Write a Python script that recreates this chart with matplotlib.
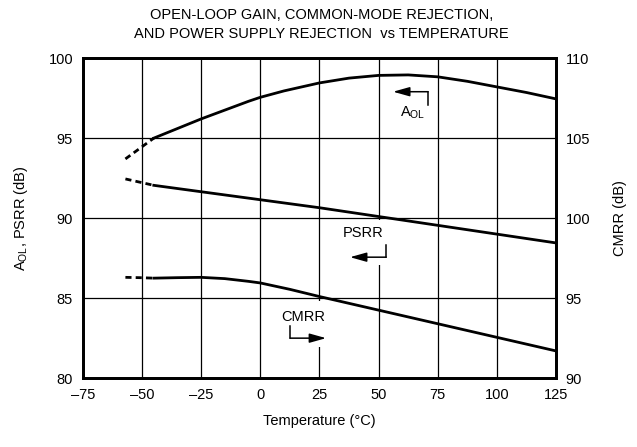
import matplotlib
matplotlib.use("Agg")
import matplotlib.pyplot as plt
from matplotlib.patches import Rectangle

plt.rcParams['font.family'] = ['Liberation Sans', 'DejaVu Sans']

# Data
aol_dash_t = [-57, -51, -45]
aol_dash_v = [93.7, 94.35, 95.0]
aol_t = [-45, -35, -25, -15, -5, 0, 10, 25, 37.5, 50, 62.5, 75, 87.5, 100, 112.5, 125]
aol_v = [95.0, 95.6, 96.2, 96.75, 97.3, 97.55, 97.95, 98.45, 98.75, 98.92, 98.95, 98.83, 98.55, 98.2, 97.85, 97.45]

psrr_dash_t = [-57, -51, -45]
psrr_dash_v = [92.45, 92.25, 92.05]
psrr_t = [-45, -25, 0, 25, 50, 75, 100, 125]
psrr_v = [92.05, 91.65, 91.15, 90.65, 90.1, 89.55, 89.0, 88.45]

cmrr_dash_t = [-57, -51, -45]
cmrr_dash_v = [96.3, 96.28, 96.25]
cmrr_t = [-45, -35, -25, -15, -5, 0, 12.5, 25, 50, 75, 100, 125]
cmrr_v = [96.25, 96.28, 96.3, 96.22, 96.05, 95.95, 95.55, 95.1, 94.25, 93.4, 92.55, 91.7]

xticks = [-75, -50, -25, 0, 25, 50, 75, 100, 125]
yticks_left = [80, 85, 90, 95, 100]
yticks_right = [90, 95, 100, 105, 110]

FS = 10.5

fig = plt.figure(figsize=(6.37, 4.47), dpi=100)
ax = fig.add_axes([0.130, 0.154, 0.743, 0.716])
ax2 = ax.twinx()

ax.set_xlim(-75, 125)
ax.set_ylim(80, 100)
ax2.set_ylim(90, 110)
ax.set_xticks(xticks)
ax.set_xticklabels([("\u2013%d" % -t if t < 0 else str(t)) for t in xticks])
ax.set_yticks(yticks_left)
ax2.set_yticks(yticks_right)

ax.grid(True, color='black', linewidth=0.9)
ax.set_axisbelow(True)
for a in (ax, ax2):
    a.tick_params(length=0, labelsize=FS, pad=7)
    for s in a.spines.values():
        s.set_linewidth(2.0)

# white masks behind annotations
for (x0, y0, w, h) in [(54.9, 96.0, 17.7, 2.5), (35.8, 87.06, 19.9, 2.8), (10.4, 81.94, 19.1, 2.9)]:
    ax.add_patch(Rectangle((x0, y0), w, h, facecolor='white', edgecolor='none', zorder=1.8))

ax.plot(aol_t, aol_v, color='black', lw=2.0, zorder=3)
ax.plot(aol_dash_t, aol_dash_v, color='black', lw=2.0, ls=(0, (2.2, 1.5)), zorder=3)
ax.plot(psrr_t, psrr_v, color='black', lw=2.0, zorder=3)
ax.plot(psrr_dash_t, psrr_dash_v, color='black', lw=2.0, ls=(0, (2.2, 1.5)), zorder=3)
ax2.plot(cmrr_t, cmrr_v, color='black', lw=2.0, zorder=3)
ax2.plot(cmrr_dash_t, cmrr_dash_v, color='black', lw=2.0, ls=(0, (2.2, 1.5)), zorder=3)

ax.set_zorder(ax2.get_zorder() + 1)
ax.patch.set_visible(False)

arrow_style = dict(arrowstyle='-|>,head_length=1.0,head_width=0.28', color='black', lw=1.1,
                   shrinkA=0, shrinkB=0)

# annotations
ax.text(64.2, 96.6, r"A$_{\mathregular{OL}}$", ha='center', va='center', fontsize=FS, zorder=4)
ax.plot([70.9, 70.9], [97.06, 97.9], color='black', lw=1.1, zorder=4)
ax.annotate("", xy=(56.1, 97.9), xytext=(70.9, 97.9), arrowprops=arrow_style, zorder=4)

ax.text(43.4, 89.06, "PSRR", ha='center', va='center', fontsize=FS, zorder=4)
ax.plot([53.2, 53.2], [87.56, 88.3], color='black', lw=1.1, zorder=4)
ax.annotate("", xy=(37.9, 87.56), xytext=(53.2, 87.56), arrowprops=arrow_style, zorder=4)

ax.text(18.1, 83.8, "CMRR", ha='center', va='center', fontsize=FS, zorder=4)
ax.plot([12.6, 12.6], [82.5, 83.25], color='black', lw=1.1, zorder=4)
ax.annotate("", xy=(27.8, 82.5), xytext=(12.6, 82.5), arrowprops=arrow_style, zorder=4)

ax.set_xlabel("Temperature (\u00b0C)", fontsize=FS, labelpad=9)
ax.set_ylabel(r"A$_{\mathregular{OL}}$, PSRR (dB)", fontsize=FS, labelpad=13)
ax2.set_ylabel("CMRR (dB)", fontsize=FS, labelpad=16)
fig.text(0.505, 0.945, "OPEN-LOOP GAIN, COMMON-MODE REJECTION,\nAND POWER SUPPLY REJECTION  vs TEMPERATURE",
         ha='center', va='center', fontsize=FS, linespacing=1.45)

fig.savefig("out.png", dpi=100)
